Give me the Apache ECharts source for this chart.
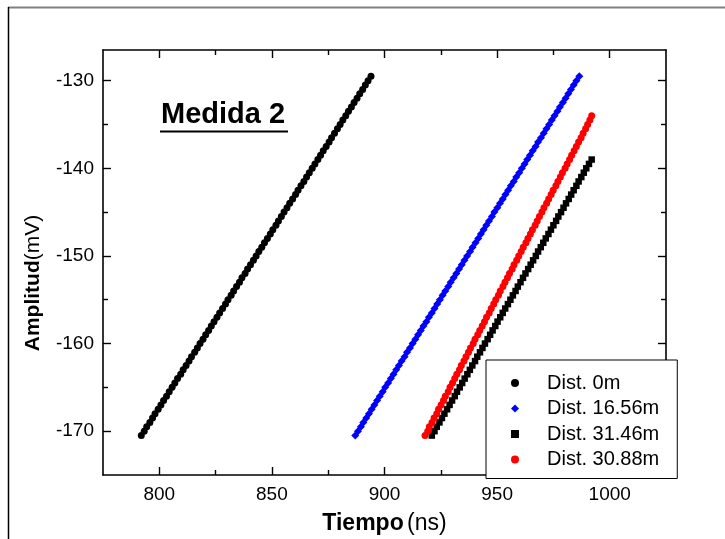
<!DOCTYPE html>
<html>
<head>
<meta charset="utf-8">
<script src="https://cdn.jsdelivr.net/npm/echarts@6/dist/echarts.min.js"></script>
<style>
html,body{margin:0;padding:0;background:#fff;}
#chart{width:725px;height:539px;}
</style>
</head>
<body>
<div id="chart"></div>
<script>
// Amplitude levels (mV) shared by the series
var amplitude = [-170.5,-170,-169.5,-169,-168.5,-168,-167.5,-167,-166.5,-166,-165.5,-165,-164.5,-164,-163.5,-163,-162.5,-162,-161.5,-161,-160.5,-160,-159.5,-159,-158.5,-158,-157.5,-157,-156.5,-156,-155.5,-155,-154.5,-154,-153.5,-153,-152.5,-152,-151.5,-151,-150.5,-150,-149.5,-149,-148.5,-148,-147.5,-147,-146.5,-146,-145.5,-145,-144.5,-144,-143.5,-143,-142.5,-142,-141.5,-141,-140.5,-140,-139.5,-139,-138.5,-138,-137.5,-137,-136.5,-136,-135.5,-135,-134.5,-134,-133.5,-133,-132.5,-132,-131.5,-131,-130.5,-130,-129.5];

// Time values (ns) per series
var t0m = [792.0,793.3,794.4,795.8,797.0,798.1,799.5,800.7,801.9,803.2,804.4,805.7,806.9,808.1,809.5,810.6,811.9,813.2,814.3,815.7,816.9,818.1,819.4,820.6,821.9,823.1,824.3,825.6,826.8,828.1,829.4,830.5,831.9,833.0,834.3,835.6,836.7,838.1,839.2,840.5,841.8,843.0,844.2,845.5,846.7,848.0,849.3,850.4,851.8,852.9,854.2,855.4,856.7,857.9,859.2,860.5,861.6,862.9,864.2,865.4,866.6,867.9,869.1,870.4,871.6,872.8,874.1,875.4,876.5,877.8,879.1,880.3,881.5,882.8,884.0,885.3,886.5,887.8,889.0,890.3,891.5,892.7,894.0];
var t1656m = [887.0,888.2,889.5,890.6,891.9,893.1,894.3,895.5,896.7,897.9,899.2,900.3,901.6,902.8,904.0,905.2,906.4,907.6,908.9,910.0,911.3,912.5,913.7,914.9,916.1,917.3,918.6,919.7,921.0,922.2,923.4,924.6,925.8,927.0,928.3,929.4,930.7,931.9,933.1,934.3,935.5,936.7,938.0,939.1,940.4,941.6,942.8,944.0,945.2,946.4,947.7,948.8,950.1,951.3,952.5,953.7,954.9,956.1,957.4,958.5,959.8,961.0,962.2,963.4,964.6,965.8,967.1,968.2,969.5,970.7,971.9,973.1,974.3,975.5,976.8,977.9,979.2,980.4,981.6,982.8,984.0,985.2,986.5];
var t3146m = [921.0,922.2,923.2,924.4,925.5,926.6,927.8,928.9,930.0,931.2,932.2,933.4,934.5,935.6,936.8,937.9,939.0,940.2,941.2,942.4,943.5,944.6,945.8,946.9,948.0,949.2,950.2,951.4,952.5,953.6,954.8,955.9,957.0,958.2,959.2,960.4,961.5,962.6,963.8,964.9,966.0,967.2,968.2,969.4,970.5,971.6,972.8,973.9,975.0,976.2,977.2,978.4,979.5,980.6,981.8,982.9,984.0,985.2,986.2,987.4,988.5,989.6,990.8,992.0];
var t3088m = [918.0,919.2,919.9,921.1,922.0,923.2,924.0,925.1,926.2,927.0,928.3,929.1,930.2,931.2,932.1,933.3,934.1,935.3,936.2,937.3,938.2,939.4,940.2,941.4,942.3,943.4,944.4,945.3,946.5,947.4,948.5,949.4,950.6,951.4,952.6,953.5,954.6,955.5,956.7,957.5,958.7,959.6,960.7,961.6,962.8,963.7,964.8,965.7,966.9,967.8,968.8,969.9,970.8,972.0,972.9,974.0,974.9,976.1,977.0,978.1,979.0,980.2,981.1,982.2,983.1,984.2,985.2,986.2,987.3,988.2,989.3,990.2,991.2,992.0];

var seriesNames = ['Dist. 0m','Dist. 16.56m','Dist. 31.46m','Dist. 30.88m'];
var xMajor = [800,850,900,950,1000];
var xMinor = [825,875,925,975];
var yMajor = [-170,-160,-150,-140,-130];
var yMinor = [-165,-155,-145,-135];

function pairs(ts){ return ts.map(function(t,i){ return [t, amplitude[i]]; }); }

var FONT = 'Liberation Sans, Arial, sans-serif';
var XMIN = 775, XMAX = 1025, YMIN = -175, YMAX = -126.5;

function plain(v){ return String(v); }

function xAx(pos, vals, len, showLine, showLabel){
  return {
    type:'value', position:pos, min:XMIN, max:XMAX,
    axisLine:{show:showLine, onZero:false, lineStyle:{color:'#000', width:1.6}},
    axisTick:{show:true, inside:true, length:len, customValues:vals, lineStyle:{color:'#000', width:1.4}},
    axisLabel:{show:showLabel, customValues:vals, formatter:plain, fontFamily:FONT, fontSize:19, color:'#000', margin:10},
    splitLine:{show:false}
  };
}
function yAx(pos, vals, len, showLine, showLabel){
  return {
    type:'value', position:pos, min:YMIN, max:YMAX,
    axisLine:{show:showLine, onZero:false, lineStyle:{color:'#000', width:1.6}},
    axisTick:{show:true, inside:true, length:len, customValues:vals, lineStyle:{color:'#000', width:1.4}},
    axisLabel:{show:showLabel, customValues:vals, formatter:plain, fontFamily:FONT, fontSize:19, color:'#000', margin:9},
    splitLine:{show:false}
  };
}

var chart = echarts.init(document.getElementById('chart'), null, {renderer:'canvas'});
chart.setOption({
  animation:false,
  backgroundColor:'#fff',
  grid:{left:103, top:50, right:59, bottom:64, containLabel:false},
  xAxis:[
    xAx('bottom', xMajor, 8, true, true),
    xAx('bottom', xMinor, 5, false, false),
    xAx('top', xMajor, 8, true, false),
    xAx('top', xMinor, 5, false, false)
  ],
  yAxis:[
    yAx('left', yMajor, 8, true, true),
    yAx('left', yMinor, 5, false, false),
    yAx('right', yMajor, 8, true, false),
    yAx('right', yMinor, 5, false, false)
  ],
  legend:{
    orient:'vertical', left:486, top:360,
    padding:[13,18,9,25], itemGap:5.5, itemWidth:8, itemHeight:8,
    backgroundColor:'#fff', borderColor:'#000', borderWidth:1,
    textStyle:{fontFamily:FONT, fontSize:20, color:'#000', lineHeight:20, padding:[0,0,0,23]},
    data:seriesNames
  },
  series:[
    {name:seriesNames[0], type:'scatter', symbol:'circle', symbolSize:7, itemStyle:{color:'#000', opacity:1}, data:pairs(t0m)},
    {name:seriesNames[1], type:'scatter', symbol:'diamond', symbolSize:8, itemStyle:{color:'#0000ff', opacity:1}, data:pairs(t1656m)},
    {name:seriesNames[2], type:'scatter', symbol:'rect', symbolSize:6.5, itemStyle:{color:'#000', opacity:1}, data:pairs(t3146m)},
    {name:seriesNames[3], type:'scatter', symbol:'circle', symbolSize:7, itemStyle:{color:'#ff0000', opacity:1}, data:pairs(t3088m)}
  ],
  graphic:[
    {type:'line', shape:{x1:8, y1:7.5, x2:725, y2:7.5}, style:{stroke:'#808080', lineWidth:2}, z:10},
    {type:'line', shape:{x1:8.5, y1:7, x2:8.5, y2:539}, style:{stroke:'#000', lineWidth:1.5}, z:10},
    {type:'text', x:161, y:129, style:{text:'Medida 2', fontFamily:FONT, fontSize:29, fontWeight:'bold', fill:'#000', align:'left', verticalAlign:'bottom'}, z:10},
    {type:'line', shape:{x1:160, y1:131.5, x2:288, y2:131.5}, style:{stroke:'#000', lineWidth:2}, z:10},
    {type:'text', x:384.5, y:524, style:{text:'{b|Tiempo} {n|(ns)}', align:'center', verticalAlign:'middle',
      rich:{b:{fontFamily:FONT, fontSize:23, fontWeight:'bold', fill:'#000'}, n:{fontFamily:FONT, fontSize:23, fill:'#000'}}}, z:10},
    {type:'text', x:33, y:283, rotation:Math.PI/2, style:{text:'{b|Amplitud}{n|(mV)}', align:'center', verticalAlign:'middle',
      rich:{b:{fontFamily:FONT, fontSize:21, fontWeight:'bold', fill:'#000'}, n:{fontFamily:FONT, fontSize:21, fill:'#000'}}}, z:10}
  ]
});
</script>
</body>
</html>
